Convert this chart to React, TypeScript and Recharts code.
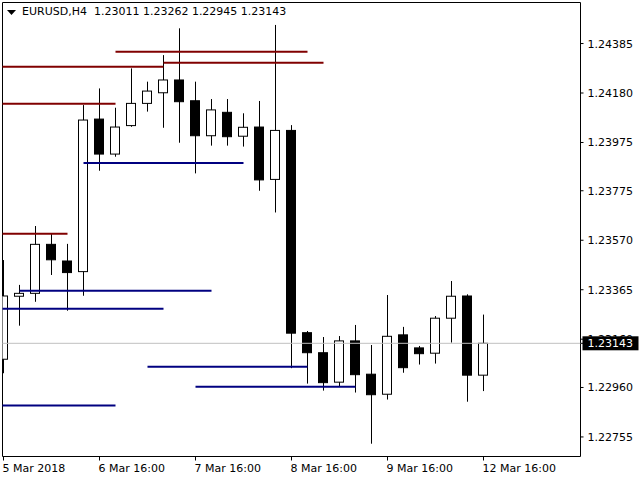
import React from 'react';
import { ComposedChart, Bar, XAxis, YAxis, ReferenceLine, ReferenceArea } from 'recharts';

const symbol = 'EURUSD,H4';

// H4 candles (index 0 is the partly hidden one at the left edge)
const opens = [1.23077, 1.23338, 1.2335, 1.23553, 1.23484, 1.2344, 1.24072, 1.23927, 1.24045, 1.24137, 1.24181, 1.24234, 1.24148, 1.24003, 1.241, 1.24001, 1.24039, 1.23822, 1.24025, 1.23187, 1.23104, 1.22982, 1.23153, 1.23015, 1.22932, 1.23178, 1.23124, 1.23102, 1.23247, 1.23339, 1.23011];
const highs = [1.23488, 1.23385, 1.23629, 1.23596, 1.23555, 1.2413, 1.24199, 1.24119, 1.24282, 1.24227, 1.24337, 1.24448, 1.24227, 1.24155, 1.24155, 1.24096, 1.24147, 1.24462, 1.24047, 1.23194, 1.23169, 1.23173, 1.23219, 1.23136, 1.23343, 1.23211, 1.23132, 1.23256, 1.23401, 1.23346, 1.23262];
const lows = [1.23019, 1.23216, 1.23315, 1.23426, 1.23278, 1.2334, 1.23858, 1.23916, 1.2404, 1.24103, 1.24036, 1.23974, 1.23847, 1.23962, 1.23962, 1.23958, 1.23775, 1.23685, 1.2304, 1.22976, 1.22947, 1.22963, 1.22939, 1.22727, 1.2291, 1.23021, 1.23055, 1.23059, 1.23146, 1.22901, 1.22945];
const closes = [1.23339, 1.2335, 1.23553, 1.23489, 1.23436, 1.24068, 1.23927, 1.24039, 1.24137, 1.24188, 1.24234, 1.24144, 1.24003, 1.2411, 1.23999, 1.24038, 1.2382, 1.24025, 1.23185, 1.23104, 1.2298, 1.23153, 1.23013, 1.2293, 1.23172, 1.23042, 1.231, 1.23247, 1.23338, 1.23011, 1.23143];

const xTickIdx = [0, 6, 12, 18, 24, 30];
const xTickLabels = ['5 Mar 2018', '6 Mar 16:00', '7 Mar 16:00', '8 Mar 16:00', '9 Mar 16:00', '12 Mar 16:00'];
const yTicks = [1.22755, 1.2296, 1.2316, 1.23365, 1.2357, 1.23775, 1.23975, 1.2418, 1.24385];

// resistance segments (dark red)
const resLevels = [1.24351, 1.24305, 1.24289, 1.24136, 1.23597];
const resFrom = [7, 10, -1, -1, -1];
const resTo = [19, 20, 10, 7, 4];

// support segments (navy)
const supLevels = [1.2389, 1.23361, 1.23286, 1.23046, 1.22963, 1.22885];
const supFrom = [5, 1, -1, 9, 12, -1];
const supTo = [15, 13, 10, 19, 22, 7];

const data = opens.map((o, i) => ({ i, open: o, high: highs[i], low: lows[i], close: closes[i] }));
const lastPrice = closes[closes.length - 1];
const font = 'DejaVu Sans';

const Candle = (props: any) => {
  const { x, y, width, height, payload } = props;
  const top = Math.min(y, y + height);
  const h = Math.abs(height);
  const cx = Math.floor(x + width / 2) + 0.5;
  const ppu = h / (payload.high - payload.low);
  const yOf = (p: number) => top + (payload.high - p) * ppu;
  const bTop = yOf(Math.max(payload.open, payload.close));
  const bBot = yOf(Math.min(payload.open, payload.close));
  const up = payload.close >= payload.open;
  return (
    <g>
      <line x1={cx} x2={cx} y1={top} y2={top + h} stroke="#000" strokeWidth={1} />
      <rect x={cx - 5} y={bTop} width={9} height={Math.max(bBot - bTop, 1)} fill={up ? '#fff' : '#000'} stroke="#000" strokeWidth={1} />
    </g>
  );
};

const XTick = (props: any) => {
  const { x, payload } = props;
  const k = xTickIdx.indexOf(payload.value);
  return (
    <text x={x - 1} y={472} textAnchor="start" fontFamily={font} fontSize={11} fill="#000">
      {xTickLabels[k]}
    </text>
  );
};

// price scale labels; the last tick is the bid tag drawn on top of the others
const YTick = (props: any) => {
  const { x, y, payload } = props;
  const v = payload.value;
  if (v === lastPrice) {
    return (
      <g>
        <rect x={x - 5} y={y - 7} width={56} height={14} fill="#000" />
        <text x={x} y={y + 4} fontFamily={font} fontSize={11} fill="#fff">
          {v.toFixed(5)}
        </text>
      </g>
    );
  }
  return (
    <text x={x} y={y + 4} fontFamily={font} fontSize={11} fill="#000">
      {v.toFixed(5)}
    </text>
  );
};

export default function App() {
  const xMin = -0.0625;
  const xMax = 36.0625;
  const yMin = 1.22674;
  const yMax = 1.24555;
  return (
    <div style={{ position: 'absolute', left: 0, top: 0, width: 640, height: 480, background: '#fff' }}>
      <ComposedChart width={640} height={480} data={data} margin={{ top: 2.5, right: 0, left: 2.5, bottom: 0 }}>
        <XAxis
          dataKey="i"
          type="number"
          domain={[xMin, xMax]}
          allowDataOverflow
          ticks={xTickIdx}
          interval={0}
          height={23.5}
          axisLine={false}
          tickLine={{ stroke: '#000' }}
          tickSize={4}
          tick={<XTick />}
        />
        <YAxis
          orientation="right"
          type="number"
          domain={[yMin, yMax]}
          allowDataOverflow
          ticks={[...yTicks, lastPrice]}
          interval={0}
          width={59.5}
          axisLine={false}
          tickLine={{ stroke: '#000' }}
          tickSize={3}
          tickMargin={4}
          tick={<YTick />}
        />
        <ReferenceLine y={lastPrice} stroke="#c0c0c0" strokeWidth={1} />
        <Bar
          dataKey={(d: any) => [d.low, d.high]}
          barSize={10}
          shape={<Candle />}
          isAnimationActive={false}
        />
        {resLevels.map((p, k) => (
          <ReferenceLine
            key={'r' + k}
            segment={[{ x: resFrom[k], y: p }, { x: resTo[k], y: p }]}
            stroke="#800000"
            strokeWidth={2}
            ifOverflow="hidden"
          />
        ))}
        {supLevels.map((p, k) => (
          <ReferenceLine
            key={'s' + k}
            segment={[{ x: supFrom[k], y: p }, { x: supTo[k], y: p }]}
            stroke="#000080"
            strokeWidth={2}
            ifOverflow="hidden"
          />
        ))}
        <ReferenceArea x1={xMin} x2={xMax} y1={yMin} y2={yMax} fill="none" fillOpacity={0} stroke="#000" strokeWidth={1} />
      </ComposedChart>
      <div style={{ position: 'absolute', left: 7, top: 5, fontFamily: font, fontSize: 11, color: '#000', whiteSpace: 'pre', lineHeight: '13px' }}>
        <svg width={9} height={5} style={{ marginRight: 6, verticalAlign: 'middle' }}>
          <polygon points="0,0 9,0 4.5,5" fill="#000" />
        </svg>
        {symbol + '  ' + [opens[30], highs[30], lows[30], closes[30]].map((v) => v.toFixed(5)).join(' ')}
      </div>
    </div>
  );
}
